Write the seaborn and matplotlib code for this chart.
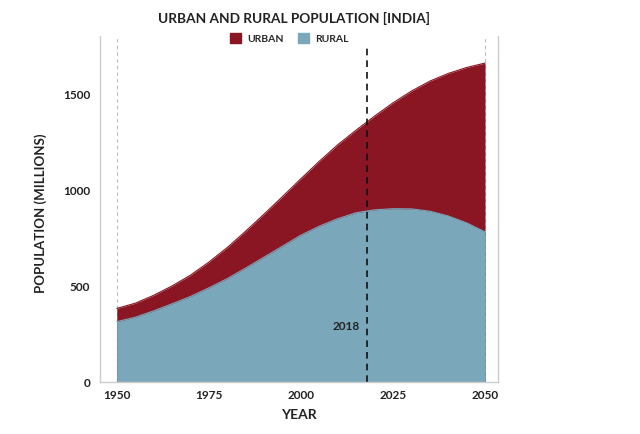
import seaborn as sns
import matplotlib.pyplot as plt
from matplotlib.patches import Patch
import pandas as pd

years = [1950, 1955, 1960, 1965, 1970, 1975, 1980, 1985, 1990, 1995, 2000,
         2005, 2010, 2015, 2020, 2025, 2030, 2035, 2040, 2045, 2050]
total = [382, 409, 450, 499, 555, 623, 699, 784, 873, 964, 1057,
         1148, 1234, 1310, 1383, 1452, 1513, 1565, 1605, 1636, 1659]
rural = [313, 336, 369, 406, 444, 489, 537, 592, 649, 706, 763,
         810, 849, 880, 895, 901, 900, 888, 863, 827, 780]
xticks = [1950, 1975, 2000, 2025, 2050]
yticks = [0, 500, 1000, 1500]
marker_year = 2018

urban_color = "#8a1624"
rural_color = "#7ba7bb"

df = pd.DataFrame({"year": years, "total": total, "rural": rural})

sns.set_style("white")
plt.rcParams['font.family'] = ['Lato', 'DejaVu Sans']

fig = plt.figure(figsize=(6.4, 4.35), dpi=100)
ax = fig.add_axes([0.156, 0.12, 0.622, 0.795])

ax.fill_between(df["year"], 0, df["total"], color=urban_color, lw=0)
ax.fill_between(df["year"], 0, df["rural"], color=rural_color, lw=0)
sns.lineplot(data=df, x="year", y="total", color=urban_color, lw=0.8, ax=ax)
sns.lineplot(data=df, x="year", y="rural", color=rural_color, lw=0.8, ax=ax)

ax.axvline(1950, color="#bbbbbb", ls=(0, (3, 3)), lw=0.8, zorder=0)
ax.axvline(2050, color="#bbbbbb", ls=(0, (3, 3)), lw=0.8, zorder=0)
ax.axvline(marker_year, ymin=0, ymax=0.975, color="#111111", ls=(0, (4, 3)), lw=1.2)
ax.text(marker_year - 2, 295, str(marker_year), ha="right", va="center",
        fontsize=8.5, fontweight="bold", color="#222222")

ax.set_xlim(1945.4, 2053.5)
ax.set_ylim(0, 1800)
ax.set_xticks(xticks)
ax.set_yticks(yticks)
ax.tick_params(axis="both", labelsize=8.5, length=3, color="#c8d4e0", pad=4)
ax.tick_params(axis="x", pad=2)
for lab in ax.get_xticklabels() + ax.get_yticklabels():
    lab.set_fontweight("bold")
    lab.set_color("#222222")

for side in ["left", "bottom", "right"]:
    ax.spines[side].set_color("#cccccc")
    ax.spines[side].set_linewidth(1)
ax.spines["top"].set_visible(False)

ax.set_xlabel("YEAR", fontsize=10, fontweight="bold", labelpad=6, color="#222222")
ax.set_ylabel("POPULATION (MILLIONS)", fontsize=9.5, fontweight="bold", color="#222222")
ax.yaxis.set_label_coords(-0.133, 0.49)

fig.text(0.46, 0.958, "URBAN AND RURAL POPULATION [INDIA]", ha="center", va="center",
         fontsize=9.8, fontweight="bold", color="#222222")
handles = [Patch(facecolor=urban_color, edgecolor=urban_color, label="URBAN"),
           Patch(facecolor=rural_color, edgecolor=rural_color, label="RURAL")]
fig.legend(handles=handles, loc="center", bbox_to_anchor=(0.452, 0.91), ncol=2,
           frameon=False, handlelength=1.1, handleheight=1.1, columnspacing=1.3,
           handletextpad=0.6, prop={"size": 7.5, "weight": "bold"})

fig.savefig("out.png", dpi=100)
